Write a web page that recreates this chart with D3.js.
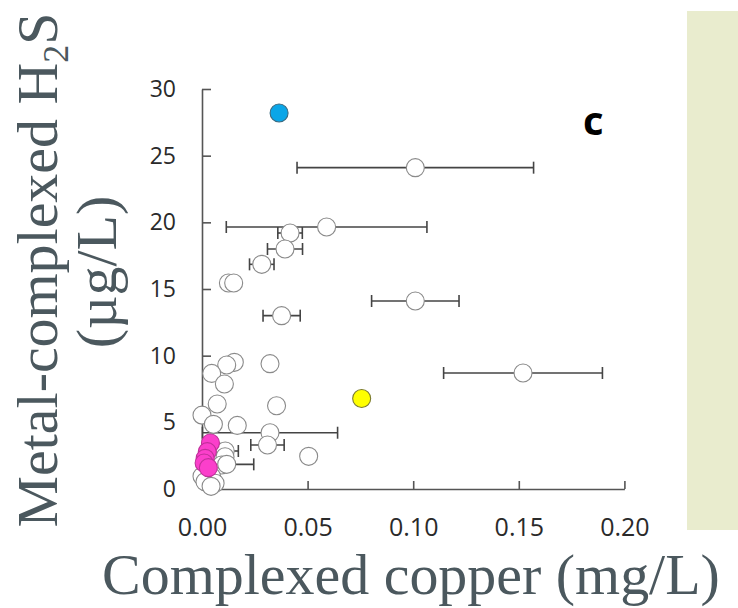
<!DOCTYPE html>
<html>
<head>
<meta charset="utf-8">
<script src="https://cdn.jsdelivr.net/npm/d3@7"></script>
<style>
  html, body { margin: 0; padding: 0; background: #fff; }
  svg { display: block; }
</style>
</head>
<body>
<svg id="chart" width="738" height="608"></svg>
<script>
// Complexed copper (mg/L) vs metal-complexed H2S (µg/L)

// Open-circle samples: x, y and symmetric x error
const whiteCopper = [0.101, 0.059, 0.0417, 0.0393, 0.0283, 0.0125, 0.015, 0.101, 0.0377, 0.152,
  0.0153, 0.0117, 0.0046, 0.0322, 0.0106, 0.0072, 0.0353, 0.0, 0.0054, 0.0167,
  0.0322, 0.031, 0.0505, 0.0077, 0.011, 0.0109, 0.0093, 0.0117, 0.0, 0.0046,
  0.0014, 0.0062, 0.0043];
const whiteH2S = [24.1, 19.65, 19.2, 18.0, 16.85, 15.45, 15.45, 14.1, 13.0, 8.7,
  9.5, 9.3, 8.67, 9.4, 7.87, 6.37, 6.24, 5.54, 4.85, 4.77,
  4.22, 3.3, 2.45, 2.79, 2.85, 2.42, 1.8, 1.85, 0.95, 0.92,
  0.55, 0.43, 0.2];
const whiteErr = [0.056, 0.0475, 0.0058, 0.0083, 0.0058, 0, 0, 0.0207, 0.0088, 0.0376,
  0, 0, 0, 0, 0, 0, 0, 0, 0, 0,
  0.032, 0.0079, 0, 0, 0.0062, 0, 0, 0.0128, 0, 0,
  0, 0, 0];

// Highlighted samples
const pinkCopper = [0.004, 0.0025, 0.0015, 0.001, 0.003];
const pinkH2S = [3.45, 2.8, 2.3, 1.95, 1.6];
const blueCopper = [0.0365];
const blueH2S = [28.2];
const yellowCopper = [0.0756];
const yellowH2S = [6.79];

const xTicks = [0, 0.05, 0.10, 0.15, 0.20];
const yTicks = [0, 5, 10, 15, 20, 25, 30];

const svg = d3.select("#chart");

// side panel
svg.append("rect").attr("x", 687).attr("y", 11).attr("width", 51).attr("height", 519)
  .attr("fill", "#e9ecce");

const x = d3.scaleLinear().domain([0, 0.2]).range([202, 624.4]);
const y = d3.scaleLinear().domain([0, 30]).range([489, 89]);

const axisColor = "#555";

// axes
const gx = svg.append("g").attr("transform", "translate(0,489)")
  .call(d3.axisBottom(x).tickValues(xTicks).tickFormat(d3.format(".2f"))
    .tickSizeInner(-8).tickSizeOuter(0).tickPadding(29));
const gy = svg.append("g").attr("transform", "translate(202,0)")
  .call(d3.axisLeft(y).tickValues(yTicks).tickFormat(d3.format("d"))
    .tickSizeInner(-9).tickSizeOuter(0).tickPadding(26));

[gx, gy].forEach(g => {
  g.select(".domain").attr("stroke", axisColor).attr("stroke-width", 1.6);
  g.selectAll(".tick line").attr("stroke", axisColor).attr("stroke-width", 1.6);
  g.selectAll(".tick text").attr("fill", "#2a2a2a").attr("font-family", "'Open Sans', sans-serif");
});
gx.selectAll(".tick text").attr("font-size", 25);
gy.selectAll(".tick text").attr("font-size", 23);
gy.select(".tick line").attr("stroke-width", 0);

// error bars
const whiteData = whiteCopper.map((c, i) => ({ c, h: whiteH2S[i], e: whiteErr[i] }));
const errG = svg.append("g").attr("stroke", "#444").attr("stroke-width", 1.6).attr("fill", "none");
whiteData.filter(d => d.e > 0).forEach(d => {
  const y0 = y(d.h), x0 = x(Math.max(0, d.c - d.e)), x1 = x(d.c + d.e);
  errG.append("line").attr("x1", x0).attr("x2", x1).attr("y1", y0).attr("y2", y0);
  errG.append("line").attr("x1", x0).attr("x2", x0).attr("y1", y0 - 6).attr("y2", y0 + 6);
  errG.append("line").attr("x1", x1).attr("x2", x1).attr("y1", y0 - 6).attr("y2", y0 + 6);
});

// points
const r = 9;
function dots(cs, hs, fill, stroke) {
  svg.append("g").selectAll("circle").data(cs.map((c, i) => ({ c, h: hs[i] })))
    .join("circle")
    .attr("cx", d => x(d.c)).attr("cy", d => y(d.h)).attr("r", r)
    .attr("fill", fill).attr("stroke", stroke).attr("stroke-width", 1.1);
}
dots(whiteCopper, whiteH2S, "#fff", "#8a8a8a");
dots(blueCopper, blueH2S, "#0aa6e8", "#3a6a80");
dots(yellowCopper, yellowH2S, "#ffff00", "#7a7a30");
dots(pinkCopper, pinkH2S, "#fb3fcb", "#c0309a");

// panel letter
svg.append("text").attr("x", 583).attr("y", 135).text("c")
  .attr("font-family", "'Open Sans', sans-serif").attr("font-weight", 700)
  .attr("font-size", 40).attr("fill", "#000");

// axis titles, sized to their spans
const titleColor = "#4b585e";
const serif = "'Liberation Serif', 'DejaVu Serif', serif";
function fit(t, target) {
  const w = t.node().getComputedTextLength();
  const fs = parseFloat(t.attr("font-size"));
  t.attr("font-size", fs * target / w);
}

const xt = svg.append("text").attr("x", 411).attr("y", 594).attr("text-anchor", "middle")
  .attr("font-family", serif).attr("font-size", 57).attr("fill", titleColor)
  .text("Complexed copper (mg/L)");
fit(xt, 618);

const yt1 = svg.append("text").attr("transform", "translate(57,270) rotate(-90)")
  .attr("text-anchor", "middle").attr("font-family", serif).attr("font-size", 57)
  .attr("fill", titleColor);
yt1.append("tspan").text("Metal-complexed H");
yt1.append("tspan").attr("font-size", "0.62em").attr("dy", "0.3em").text("2");
yt1.append("tspan").attr("dy", "-0.186em").text("S");
fit(yt1, 515);

const yt2 = svg.append("text").attr("transform", "translate(116,272) rotate(-90)")
  .attr("text-anchor", "middle").attr("font-family", serif).attr("font-size", yt1.attr("font-size"))
  .attr("fill", titleColor).text("(µg/L)");
</script>
</body>
</html>
